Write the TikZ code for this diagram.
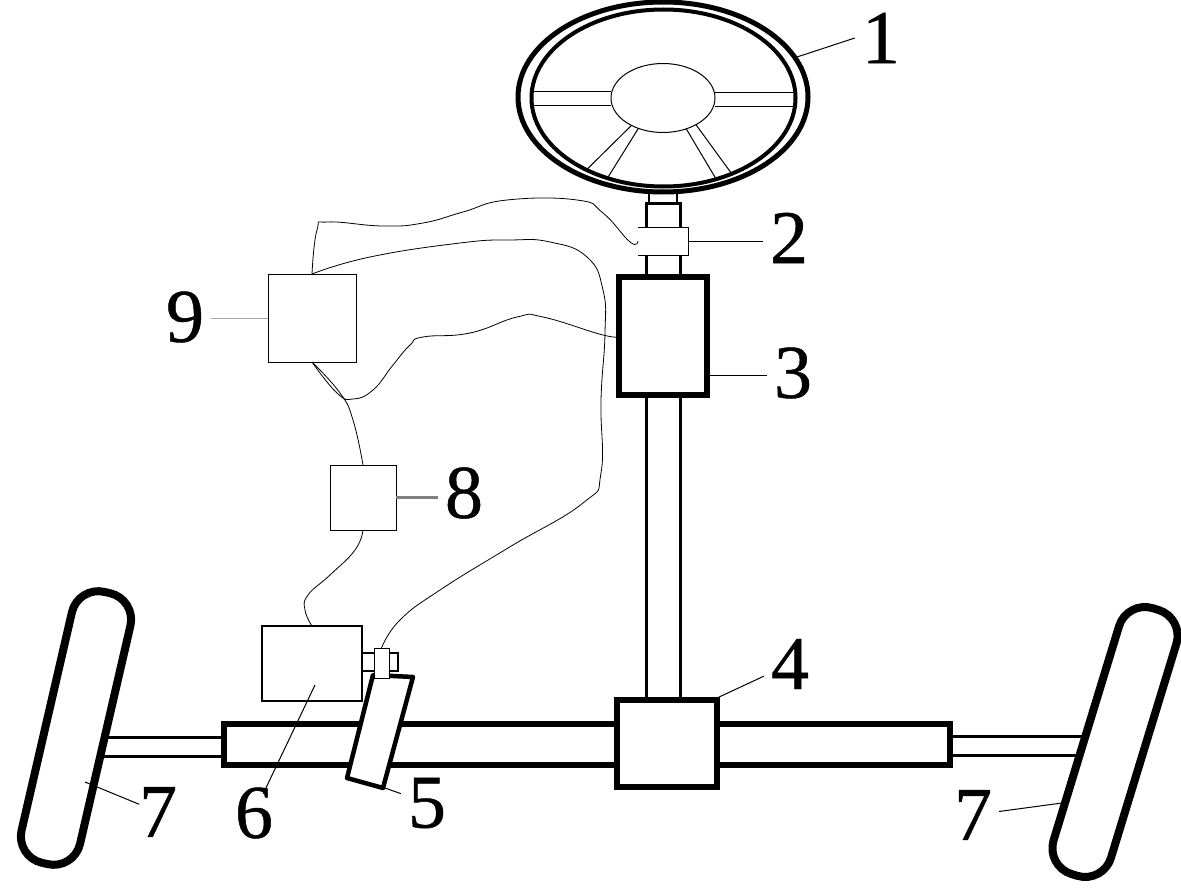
\documentclass[tikz,border=0pt]{standalone}
\usepackage{fontspec}
\setmainfont{Liberation Serif}
\newfontfamily\numfont{Liberation Serif}[FakeBold=0.6]
\usetikzlibrary{positioning,
        shapes.geometric}

\tikzset{
    heavy/.style={draw,fill=white,line width=6pt,inner sep=0pt,outer sep=0pt},
    lightbox/.style={draw,fill=white,line width=1pt,inner sep=0pt,outer sep=0pt},
    tyre/.style={draw,fill=white,line width=8pt,rounded corners=27pt,inner sep=0pt,outer sep=0pt,minimum width=60pt,minimum height=278pt},
    shaft/.style={draw,fill=white,line width=3pt,inner sep=0pt,outer sep=0pt},
    rim/.style={ellipse,draw,fill=white,inner sep=0pt,outer sep=0pt},
    wire/.style={line width=0.8pt},
    leader/.style={line width=1pt},
    num/.style={font=\numfont\fontsize{76}{76}\selectfont,inner sep=7pt}
}

\begin{document}
\begin{tikzpicture}[x=1pt,y=-1pt]
        \useasboundingbox (0,0) rectangle (1181,888);

        % axle and column
        \node [shaft,minimum width=130pt,minimum height=19pt] (rodL) at (160,747) {};
        \node [shaft,minimum width=135pt,minimum height=19pt] (rodR) at (1015,745.5) {};
        \node [tyre,rotate=-13] (wheelL) at (76,728) {};
        \node [tyre,rotate=-17] (wheelR) at (1115,742) {};
        \node [heavy,minimum width=726pt,minimum height=41pt] (rack) at (587,744.5) {};
        \node [shaft,minimum width=34pt,minimum height=305pt] (column) at (663,548) {};
        \node [heavy,minimum width=100pt,minimum height=87pt] (box4) at (667,743.5) {};
        \node [shaft,line width=2pt,minimum width=28pt,minimum height=16pt] (neck) at (663,197) {};
        \node [shaft,minimum width=34pt,minimum height=78pt] (upper) at (663,242) {};
        \node [heavy,minimum width=88pt,minimum height=118pt] (box3) at (663,336) {};

        % steering wheel
        \node [rim,line width=5pt,minimum width=290pt,minimum height=190pt] (rimO) at (663,97) {};
        \node [rim,line width=4pt,minimum width=264pt,minimum height=177pt] (rimI) at (663.5,98) {};
        \node [rim,line width=1pt,minimum width=104pt,minimum height=69pt] (hub) at (663,98) {};
        \draw [leader] (hub.west |- 0,92) -- (rimI.west |- 0,92);
        \draw [leader] (hub.west |- 0,106) -- (rimI.west |- 0,106);
        \draw [leader] (hub.east |- 0,92.5) -- (rimI.east |- 0,92.5);
        \draw [leader] (hub.east |- 0,107) -- (rimI.east |- 0,107);
        \draw [leader] (hub.-139) -- (rimI.-137);
        \draw [leader] (hub.-129) -- (rimI.-125);
        \draw [leader] (hub.-53) -- (rimI.-57);
        \draw [leader] (hub.-39) -- (rimI.-48);

        % sensor 2
        \node [fill=white,inner sep=0pt,outer sep=0pt,minimum width=50pt,minimum height=28pt] (box2) at (663,241) {};
        \draw [leader] (box2.north west) -- (box2.north east) -- (box2.south east) -- (box2.south west);

        % motor and gear
        \node [shaft,line width=2pt,minimum width=36pt,minimum height=18pt] (pin) at (380,662) {};
        \node [lightbox,line width=1.5pt,minimum width=100pt,minimum height=75pt] (box6) at (312,663.5) {};
        \draw [line width=4.5pt,fill=white,line join=round] (373,675) -- (413,677) -- (383,788) -- (347,778) -- cycle;
        \node [lightbox,minimum width=15pt,minimum height=30pt] (box5) at (381.5,663) {};

        % controller
        \node [lightbox,minimum width=88pt,minimum height=88pt] (box9) at (312,318) {};
        \node [lightbox,minimum width=66pt,minimum height=65pt] (box8) at (363,497.5) {};

        % wires
        \draw [wire] plot [smooth,tension=0.8] coordinates {(box9.north) (317,230) (328,222) (383,226) (423,223) (463,212) (507,200) (577,200) (603,213) (630,242) (box2.west)};
        \draw [wire] plot [smooth,tension=0.8] coordinates {(box9.north) (370,257) (460,243) (510,240) (550,242) (587,257) (603,290) (605,333) (601,400) (601,473) (583,503) (508,548) (440,590) (400,620) (box5.north)};
        \draw [wire] plot [smooth,tension=0.8] coordinates {(box3.west) (603,335) (543,317) (517,317) (470,333) (423,337) (410,345) (393,365) (373,390) (353,399) (337,393) (box9.south)};
        \draw [wire] plot [smooth,tension=0.8] coordinates {(box9.south) (340,393) (353,420) (box8.north)};
        \draw [wire] plot [smooth,tension=0.8] coordinates {(box8.south) (355,550) (330,575) (308,595) (305,610) (box6.north)};

        % labels
        \node [num] (lab1) at (881,38) {1};
        \node [num] (lab2) at (789,238) {2};
        \node [num] (lab3) at (793,373) {3};
        \node [num] (lab4) at (790,664) {4};
        \node [num] (lab5) at (427,803) {5};
        \node [num] (lab6) at (254,813) {6};
        \node [num] (lab7a) at (158,812) {7};
        \node [num] (lab7b) at (973,815) {7};
        \node [num] (lab8) at (464,493) {8};
        \node [num] (lab9) at (185,317) {9};

        \coordinate (tip1) at (797,57);
        \coordinate (tip2) at (688,241);
        \coordinate (tip3) at (707,375);
        \coordinate (tip4) at (717,698);
        \coordinate (tip5) at (385,788);
        \coordinate (tip6) at (315,685);
        \coordinate (tip7a) at (85,782);
        \coordinate (tip7b) at (1062,803);

        \draw [leader] (tip1) -- (lab1.west);
        \draw [leader] (tip2) -- (lab2.west |- tip2);
        \draw [leader] (tip3) -- (lab3.west |- tip3);
        \draw [leader] (tip4) -- (lab4);
        \draw [leader] (tip5) -- (lab5);
        \draw [leader,shorten >=-15pt] (tip6) -- (lab6);
        \draw [leader,shorten >=-8pt] (tip7a) -- (lab7a);
        \draw [leader] (tip7b) -- (lab7b);
        \draw [line width=2.5pt,gray] (box8.east) -- (lab8.west |- box8.east);
        \draw [leader,gray!70] (box9.west) -- (lab9.east |- box9.west);
    \end{tikzpicture}
\end{document}
